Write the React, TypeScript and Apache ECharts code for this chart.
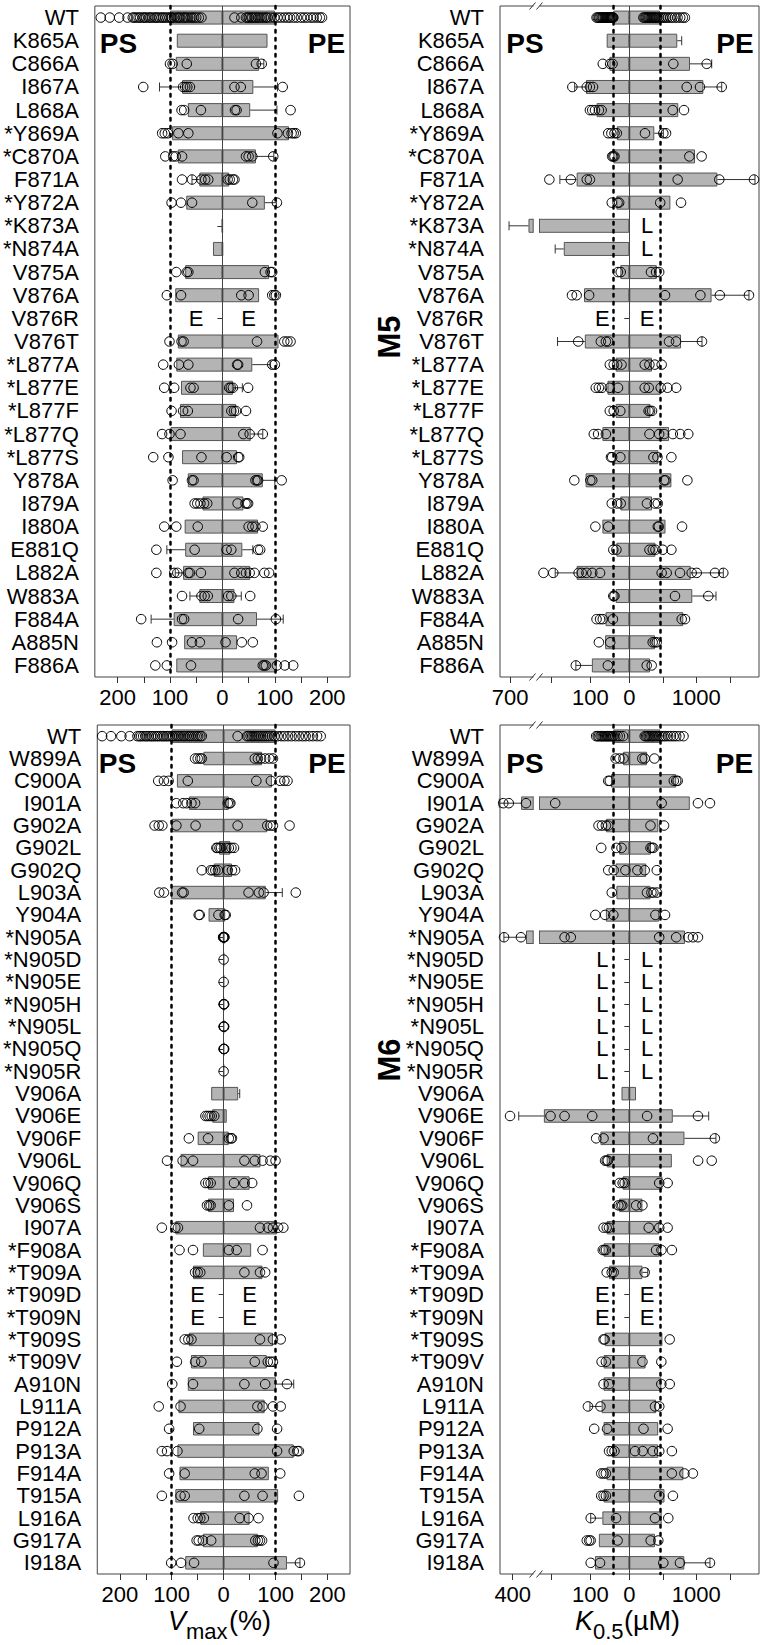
import React, { useEffect, useRef } from 'react';
import * as echarts from 'echarts';

const FONT = "'Liberation Sans', Arial, Helvetica, sans-serif";

// ---------------- categories ----------------
const catsM5 = ['WT', 'K865A', 'C866A', 'I867A', 'L868A', '*Y869A', '*C870A', 'F871A', '*Y872A', '*K873A', '*N874A', 'V875A', 'V876A', 'V876R', 'V876T', '*L877A', '*L877E', '*L877F', '*L877Q', '*L877S', 'Y878A', 'I879A', 'I880A', 'E881Q', 'L882A', 'W883A', 'F884A', 'A885N', 'F886A'];
const catsM6 = ['WT', 'W899A', 'C900A', 'I901A', 'G902A', 'G902L', 'G902Q', 'L903A', 'Y904A', '*N905A', '*N905D', '*N905E', '*N905H', '*N905L', '*N905Q', '*N905R', 'V906A', 'V906E', 'V906F', 'V906L', 'V906Q', 'V906S', 'I907A', '*F908A', '*T909A', '*T909D', '*T909N', '*T909S', '*T909V', 'A910N', 'L911A', 'P912A', 'P913A', 'F914A', 'T915A', 'L916A', 'G917A', 'I918A'];

// ---------------- M5 Vmax (%) ----------------
const vM5PsMean = [100, 87, 89, 77, 66, 96, 85, 44, 69, 1, 18, 71, 90, null, 85, 88, 79, 81, 99, 77, 66, 38, 72, 71, 75, 44, 93, 73, 88];
const vM5PeMean = [100, 86, 70, 59, 53, 127, 64, 13, 81, 0.6, 1, 89, 70, null, 107, 57, 20, 26, 54, 28, 77, 40, 68, 38, 53, 23, 66, 28, 104];
const vM5PsErr = [0, 0, 0, 43, 0, 0, 0, 14, 0, 0, 0, 0, 0, 0, 0, 0, 0, 0, 0, 0, 0, 0, 0, 35, 15, 18, 43, 0, 0];
const vM5PeErr = [0, 0, 9, 46, 51, 0, 34, 0, 22, 0, 0, 0, 0, 0, 0, 34, 18, 0, 23, 0, 23, 0, 0, 20, 0, 13, 50, 0, 0];
const vM5PsPts = [
  [232, 215, 197, 181, 171, 168, 164, 160, 157, 152, 149, 146, 141, 138, 135, 130, 127, 124, 120, 116, 113, 109, 105, 101, 98, 96, 92, 87, 84, 81, 76, 73, 70, 66, 61, 58, 54, 50, 45, 40],
  [], [100, 95, 68], [151, 75, 71, 67, 62], [78, 73, 41], [115, 110, 104, 84, 65], [109, 94, 89, 77], [77, 58, 40, 33, 27],
  [97, 79, 58], [], [], [88, 68, 65], [106, 79], [], [101, 78, 74], [113, 83, 65], [111, 92, 61, 55], [97, 75, 66],
  [115, 101, 80], [132, 103, 40], [95, 58, 55], [53, 48, 42, 35, 29], [111, 88, 47], [126, 53], [126, 92, 86, 65, 62, 41],
  [77, 40, 34, 28], [155, 77, 73], [125, 96, 58, 43], [128, 106, 60],
];
const vM5PePts = [
  [23, 36, 45, 48, 51, 55, 57, 61, 64, 68, 71, 75, 79, 83, 86, 92, 99, 105, 111, 118, 124, 129, 136, 142, 150, 156, 162, 169, 174, 180, 186, 190],
  [], [64, 75], [23, 35, 115], [24, 27, 130], [105, 125, 132, 136, 140], [45, 50, 57, 97], [10, 14, 20, 23],
  [57, 104], [], [], [81, 92, 95], [36, 50, 95, 99, 102], [], [66, 118, 124, 130], [28, 30, 95, 100], [13, 16, 20, 49], [17, 22, 26, 45],
  [40, 52, 77], [8, 30, 32], [63, 66, 68, 113], [29, 44, 47, 49], [50, 57, 63, 77], [8, 17, 68, 72], [23, 36, 45, 52, 61, 80, 89],
  [11, 17, 53], [30, 102], [6, 37, 58], [77, 80, 83, 104, 119, 135],
];
const vM5Marks: [number, string, string][] = [[13, 'E', 'E']];

// ---------------- M5 K0.5 (uM) ----------------
const kM5PsMean = [41, 58, 51, 111, 84, 32, 41, 135, 33, 425, 168, 23, 116, null, 114, 35, 56, 35, 69, 38, 112, 23, 69, 33, 135, 35, 61, 62, 96];
const kM5PeMean = [458, 716, 906, 1105, 731, 373, 981, 1314, 613, null, null, 410, 1228, null, 772, 339, 469, 316, 593, 433, 628, 339, 540, 390, 916, 940, 806, 384, 309];
const kM5PsErr = [0, 0, 0, 29, 0, 0, 0, 43, 0, 290, 22, 0, 0, 0, 70, 0, 0, 0, 0, 0, 0, 0, 0, 0, 55, 0, 0, 0, 41];
const kM5PeErr = [0, 66, 324, 274, 0, 135, 0, 562, 0, 0, 0, 0, 558, 0, 313, 0, 0, 0, 0, 0, 0, 0, 0, 0, 487, 354, 0, 0, 0];
const kM5PsPts = [
  [84, 81, 78, 76, 73, 70, 68, 66, 63, 61, 59, 57, 55, 53, 51, 49, 47, 45, 44, 42, 41],
  [], [68, 49, 43], [146, 109, 101, 93], [101, 95, 88, 78, 71], [54, 46, 38, 32], [38, 41, 44], [205, 150, 109, 101],
  [45, 30, 26], [], [], [29, 22], [147, 135, 103], [], [131, 73, 60, 54], [50, 40, 31, 20], [86, 78, 70, 50, 29], [50, 40, 23],
  [91, 80, 60], [47, 44, 23], [141, 100, 95], [45, 31, 22], [87, 54], [41, 33], [220, 195, 130, 122, 110, 95, 75],
  [41, 38], [84, 75, 68, 42], [78, 49], [137, 55],
];
const kM5PePts = [
  [210, 228, 245, 262, 280, 296, 315, 330, 348, 365, 382, 400, 420, 445, 470, 495, 520, 548, 575, 610, 640, 680, 720, 760, 800, 830],
  [], [657, 1155], [857, 1055, 1379], [648, 816], [234, 508, 548], [896, 1080], [722, 1343, 1861],
  [461, 772], [], [], [324, 400, 446], [533, 1061, 1351, 1786], [], [593, 697, 1085], [230, 300, 380, 483], [230, 290, 469, 570, 700], [288, 310, 339],
  [301, 446, 520, 650, 760, 880], [360, 420, 628], [518, 540, 867], [264, 380, 425], [425, 440, 787], [301, 350, 390, 500, 628], [483, 558, 757, 931, 1006, 1279, 1403],
  [682, 1179], [782, 831], [349, 380, 409], [260, 334],
];
const kM5Marks: [number, string, string][] = [[9, '', 'L'], [10, '', 'L'], [13, 'E', 'E']];

// ---------------- M6 Vmax (%) ----------------
const vM6PsMean = [100, 39, 90, 67, 100, 9, 19, 101, 29, 1, 0, 0, 0, 0, 0, 0, 24, 22, 50, 83, 30, 30, 93, 40, 59, null, null, 67, 63, 69, 87, 59, 89, 85, 93, 45, 40, 74];
const vM6PeMean = [100, 74, 93, 10, 84, 13, 16, 81, 3, 1, 0, 0, 0, 0, 0, 0, 28, 6, 10, 71, 50, 20, 103, 53, 75, null, null, 95, 83, 101, 79, 69, 135, 87, 105, 50, 66, 122];
const vM6PsErr = [0, 0, 0, 0, 0, 0, 0, 0, 0, 0, 0, 0, 0, 0, 0, 0, 0, 0, 0, 0, 0, 0, 0, 0, 0, 0, 0, 0, 0, 0, 0, 0, 0, 0, 0, 0, 0, 0];
const vM6PeErr = [0, 0, 0, 0, 0, 0, 0, 32, 0, 0, 0, 0, 0, 0, 0, 0, 3, 0, 0, 0, 0, 0, 0, 0, 0, 0, 0, 0, 0, 34, 0, 0, 0, 0, 0, 0, 0, 25];
const vM6PsPts = [
  [234, 217, 197, 181, 166, 162, 159, 155, 151, 148, 144, 140, 137, 133, 129, 126, 122, 118, 115, 111, 108, 104, 100, 97, 93, 89, 86, 82, 78, 75, 71, 67, 64, 60, 56, 52, 49, 45, 42],
  [55, 50, 45, 42], [126, 115, 106, 69], [91, 78, 71, 62, 55], [133, 125, 118, 91, 54], [5, 8, 12, 14], [42, 25, 21, 16, 11],
  [124, 115, 80, 77], [48, 46, 10], [1, 0.5], [], [], [], [], [], [], [], [35, 31, 27, 23, 18], [67, 30], [109, 79, 59],
  [35, 30, 25], [32, 28, 25], [119, 93, 88], [85, 59], [55, 50, 45], [], [], [75, 68, 62], [90, 55, 43], [99, 59],
  [125, 83], [105, 47], [119, 109, 89], [105, 75], [119, 83, 75], [58, 50, 45, 38], [52, 48, 40, 24], [101, 82, 57],
];
const vM6PePts = [
  [27, 45, 48, 52, 55, 58, 61, 65, 68, 72, 76, 80, 84, 88, 93, 98, 104, 111, 117, 124, 131, 138, 145, 152, 158, 165, 172, 180, 187],
  [60, 66, 72, 80, 88, 95], [63, 91, 109, 117, 123], [8, 11, 13], [27, 84, 90, 95, 127], [5, 10, 15, 20], [8, 16, 22],
  [48, 68, 77, 139], [2, 4], [0, 1, 1.5], [0], [0], [0, 0.5, 1], [0, 0.5, 1], [0, 0.5, 1], [0], [], [], [10, 14, 16], [40, 60, 75, 90, 100],
  [20, 40, 55], [10, 45], [70, 85, 95, 105, 115], [10, 25, 75], [40, 70, 80], [], [], [70, 95, 110], [60, 85, 90, 95], [40, 80, 122],
  [65, 75, 95, 110], [65, 103], [103, 135, 142, 145], [60, 73, 109], [40, 75, 145], [31, 48, 67], [61, 66, 70, 74], [96, 147],
];
const vM6Marks: [number, string, string][] = [[25, 'E', 'E'], [26, 'E', 'E']];

// ---------------- M6 K0.5 (uM) ----------------
const kM6PsMean = [41, 16, 47, 347, 60, 26, 35, 33, 60, 316, null, null, null, null, null, null, 20, 219, 74, 58, 17, 26, 58, 66, 52, null, null, 63, 66, 66, 71, 66, 44, 58, 66, 69, 78, 88];
const kM6PeMean = [461, 266, 700, 903, 433, 324, 252, 316, 446, 831, null, null, null, null, null, null, 100, 649, 823, 635, 494, 196, 447, 447, 196, null, null, 494, 243, 478, 400, 431, 431, 807, 525, 483, 383, 821];
const kM6PsErr = [0, 0, 0, 138, 0, 0, 0, 0, 0, 140, 0, 0, 0, 0, 0, 0, 0, 143, 0, 0, 0, 0, 0, 0, 0, 0, 0, 0, 0, 0, 30, 0, 0, 0, 0, 30, 0, 0];
const kM6PeErr = [0, 0, 0, 0, 0, 0, 0, 0, 0, 0, 0, 0, 0, 0, 0, 0, 0, 536, 470, 0, 0, 0, 0, 0, 80, 0, 0, 0, 0, 0, 0, 0, 0, 0, 0, 0, 0, 383];
const kM6PsPts = [
  [85, 81, 78, 74, 71, 68, 65, 62, 59, 56, 53, 50, 47, 44, 41, 36, 30, 24, 16],
  [35, 25, 15], [54, 50], [460, 425, 316, 190], [79, 70, 60, 54], [72, 33, 20], [54, 40, 10], [45], [87, 62, 41],
  [455, 348, 166, 150], [], [], [], [], [], [], [], [417, 202, 166, 95], [85, 66], [62, 58, 55], [25, 17, 12], [28, 22, 18],
  [66, 58, 52], [68, 64, 60], [58, 45, 40], [], [], [66, 63], [71, 60], [66, 52], [106, 74], [90, 57], [52, 45, 38],
  [72, 66, 60], [72, 66, 60], [99, 34], [109, 103, 99, 30], [99, 75],
];
const kM6PePts = [
  [230, 250, 270, 290, 310, 330, 350, 370, 395, 420, 450, 480, 510, 540, 580, 620, 660, 700, 750, 809],
  [194, 230, 375], [664, 700, 722], [483, 1025, 1204], [316, 518], [316, 340, 360], [121, 230, 410], [264, 330, 360, 413], [390, 533],
  [446, 700, 880, 950, 1025], [], [], [], [], [], [], [], [266, 1025], [353, 1277], [1027, 1230], [447, 572], [102, 196],
  [290, 447, 572], [400, 480, 635], [230], [], [], [603], [196, 478], [478, 603], [384, 447], [212, 572], [86, 200, 350, 447, 635],
  [635, 823, 949], [447, 651], [383, 582], [319, 433], [508, 756, 1204],
];
const kM6Marks: [number, string, string][] = [[10, 'L', 'L'], [11, 'L', 'L'], [12, 'L', 'L'], [13, 'L', 'L'], [14, 'L', 'L'], [15, 'L', 'L'], [25, 'E', 'E'], [26, 'E', 'E']];

// reference (WT) dotted lines and tick labels
const vmaxRef = 100;
const kRefM5 = [41, 458];
const kRefM6 = [41, 460];
const vmaxTicks = [-200, -150, -100, -50, 0, 50, 100, 150, 200];
const vmaxLabels = [-200, -100, 0, 100, 200];
const kTicksM5 = [700, 200, 100, 0, 500, 1000, 1500];
const kLabelsM5 = [700, 100, 0, 1000];
const kTicksM6 = [400, 200, 100, 0, 500, 1000, 1500];
const kLabelsM6 = [400, 100, 0, 1000];

// ---------------- scales ----------------
const K_PS = 0.39;
const K_PE = 0.067;
const BRK_M5 = { v: 224, s: 0.067 };
const BRK_M6 = { v: 230, s: 0.158 };
const kScale = (brk: { v: number; s: number }) => (v: number, side: number) => {
  if (side > 0) return v * K_PE;
  if (v <= brk.v) return -v * K_PS;
  return -(brk.v * K_PS + (v - brk.v) * brk.s);
};
const vScale = (v: number, side: number) => side * v;

const BAR = '#b4b4b4';
const BARB = '#555';

type Panel = {
  grid: { left: number; top: number; width: number; height: number };
  cats: string[];
  psMean: (number | null)[]; peMean: (number | null)[];
  psErr: number[]; peErr: number[];
  psPts: number[][]; pePts: number[][];
  marks: [number, string, string][];
  tf: (v: number, s: number) => number;
  min: number; max: number;
  ticks: number[]; labels: [number, string][];
  refs: number[];
  markT: [number, number];
  gap?: [number, number];
  breakT?: number;
  barW: number;
};

function buildPanel(p: Panel, gi: number) {
  const grid = { ...p.grid, show: true, borderColor: '#444', borderWidth: 1, backgroundColor: 'transparent', containLabel: false };
  const xAxis = {
    type: 'value', gridIndex: gi, min: p.min, max: p.max,
    axisLine: { show: false }, splitLine: { show: false },
    axisTick: { show: true, length: 6, customValues: p.ticks, lineStyle: { color: '#333' } },
    axisLabel: {
      customValues: p.labels.map((l) => l[0]), fontSize: 22, color: '#000', fontFamily: FONT, margin: 9,
      formatter: (val: number) => {
        const f = p.labels.find((l) => Math.abs(l[0] - val) < 0.01);
        return f ? f[1] : '';
      },
    },
  };
  const yAxis = {
    type: 'category', gridIndex: gi, data: p.cats, inverse: true,
    axisLine: { show: false },
    axisTick: { show: true, length: 5, alignWithLabel: true, interval: 0, lineStyle: { color: '#333' } },
    axisLabel: { interval: 0, fontSize: 22, color: '#000', fontFamily: FONT, margin: 16 },
  };
  const base = { xAxisIndex: gi, yAxisIndex: gi, silent: true, animation: false };
  const series: any[] = [];
  const barStyle = { color: BAR, borderColor: BARB, borderWidth: 1 };
  series.push({ ...base, type: 'bar', data: p.psMean.map((v) => (v == null ? '-' : p.tf(v, -1))), barWidth: p.barW, barGap: '-100%', itemStyle: barStyle, z: 2 });
  series.push({ ...base, type: 'bar', data: p.peMean.map((v) => (v == null ? '-' : p.tf(v, 1))), barWidth: p.barW, barGap: '-100%', itemStyle: barStyle, z: 2 });

  // bar gaps at axis break
  if (p.gap) {
    const gapData: number[][] = [];
    p.psMean.forEach((m, i) => {
      if (m != null && p.tf(m, -1) < p.gap![0]) gapData.push([p.gap![0], p.gap![1], i]);
    });
    series.push({
      ...base, type: 'custom', z: 3, data: gapData, encode: { x: [0, 1], y: 2 },
      renderItem: (params: any, api: any) => {
        const row = api.value(2);
        const a = api.coord([api.value(0), row]);
        const b = api.coord([api.value(1), row]);
        const h = p.barW / 2;
        return {
          type: 'group', children: [
            { type: 'rect', shape: { x: a[0], y: a[1] - h - 1, width: b[0] - a[0], height: 2 * h + 2 }, style: { fill: '#fff' } },
            { type: 'line', shape: { x1: a[0], y1: a[1] - h, x2: a[0], y2: a[1] + h }, style: { stroke: BARB, lineWidth: 1 } },
            { type: 'line', shape: { x1: b[0], y1: b[1] - h, x2: b[0], y2: b[1] + h }, style: { stroke: BARB, lineWidth: 1 } },
          ],
        };
      },
    });
  }

  // error bars
  const errData: number[][] = [];
  p.psMean.forEach((m, i) => { if (m != null && p.psErr[i] > 0) errData.push([p.tf(m, -1), p.tf(m + p.psErr[i], -1), i]); });
  p.peMean.forEach((m, i) => { if (m != null && p.peErr[i] > 0) errData.push([p.tf(m, 1), p.tf(m + p.peErr[i], 1), i]); });
  series.push({
    ...base, type: 'custom', z: 4, data: errData, encode: { x: [0, 1], y: 2 },
    renderItem: (params: any, api: any) => {
      const row = api.value(2);
      const a = api.coord([api.value(0), row]);
      const b = api.coord([api.value(1), row]);
      const st = { stroke: '#333', lineWidth: 1 };
      return {
        type: 'group', children: [
          { type: 'line', shape: { x1: a[0], y1: a[1], x2: b[0], y2: b[1] }, style: st },
          { type: 'line', shape: { x1: b[0], y1: b[1] - 4.5, x2: b[0], y2: b[1] + 4.5 }, style: st },
        ],
      };
    },
  });

  // break marks on frame
  if (p.breakT != null) {
    series.push({
      ...base, type: 'custom', z: 6, data: [[p.breakT, 0]],
      renderItem: (params: any, api: any) => {
        const cs = params.coordSys;
        const x = api.coord([api.value(0), 0])[0];
        const ch: any[] = [];
        [cs.y, cs.y + cs.height].forEach((y: number) => {
          ch.push({ type: 'rect', shape: { x: x - 3, y: y - 1.5, width: 6, height: 3 }, style: { fill: '#fff' } });
          ch.push({ type: 'line', shape: { x1: x - 7, y1: y + 3.5, x2: x - 1, y2: y - 3.5 }, style: { stroke: '#333', lineWidth: 1 } });
          ch.push({ type: 'line', shape: { x1: x, y1: y + 3.5, x2: x + 6, y2: y - 3.5 }, style: { stroke: '#333', lineWidth: 1 } });
        });
        return { type: 'group', children: ch };
      },
    });
  }

  // E / L labels
  const markItems: { t: number; row: number; text: string }[] = [];
  p.marks.forEach(([row, a, b]) => {
    if (a) markItems.push({ t: p.markT[0], row, text: a });
    if (b) markItems.push({ t: p.markT[1], row, text: b });
  });
  series.push({
    ...base, type: 'custom', z: 5, data: markItems.map((m) => [m.t, m.row]),
    renderItem: (params: any, api: any) => {
      const m = markItems[params.dataIndex];
      const pt = api.coord([api.value(0), api.value(1)]);
      return { type: 'text', x: pt[0], y: pt[1], style: { text: m.text, fill: '#000', font: `22px ${FONT}`, align: 'center', verticalAlign: 'middle' } };
    },
  });

  // points + reference lines
  const pts: number[][] = [];
  p.psPts.forEach((arr, i) => arr.forEach((v) => pts.push([p.tf(v, -1), i])));
  p.pePts.forEach((arr, i) => arr.forEach((v) => pts.push([p.tf(v, 1), i])));
  const dotted = { type: [2.5, 5.5], width: 2.5, color: '#000', cap: 'round' };
  series.push({
    ...base, type: 'scatter', z: 7, data: pts, symbol: 'circle', symbolSize: 9.5,
    itemStyle: { color: 'rgba(255,255,255,0)', borderColor: '#000', borderWidth: 1, opacity: 1 },
    markLine: {
      silent: true, symbol: ['none', 'none'], label: { show: false }, animation: false,
      data: [
        { xAxis: p.refs[0], lineStyle: dotted },
        { xAxis: p.refs[1], lineStyle: dotted },
        { xAxis: 0, lineStyle: { type: 'solid', color: '#444', width: 1 } },
      ],
    },
  });
  return { grid, xAxis, yAxis, series };
}

const m5k = kScale(BRK_M5);
const m6k = kScale(BRK_M6);
const kTickT = (vals: number[], tf: (v: number, s: number) => number) =>
  vals.map((v, i) => (i < vals.indexOf(0) ? tf(v, -1) : tf(v, 1)));
const kLabelT = (vals: number[], tf: (v: number, s: number) => number): [number, string][] =>
  vals.map((v, i) => [i < vals.indexOf(0) ? tf(v, -1) : tf(v, 1), String(v)]);

const GAP: [number, number] = [-96.1, -89.8];
const BREAK_T = -92.8;

const panels: Panel[] = [
  {
    grid: { left: 92, top: 6, width: 258, height: 671 }, cats: catsM5,
    psMean: vM5PsMean, peMean: vM5PeMean, psErr: vM5PsErr, peErr: vM5PeErr, psPts: vM5PsPts, pePts: vM5PePts,
    marks: vM5Marks, tf: vScale, min: -243.4, max: 243.4, ticks: vmaxTicks,
    labels: vmaxLabels.map((v) => [v, String(Math.abs(v))] as [number, string]),
    refs: [-vmaxRef, vmaxRef], markT: [-50, 50], barW: 14,
  },
  {
    grid: { left: 500, top: 6, width: 259, height: 671 }, cats: catsM5,
    psMean: kM5PsMean, peMean: kM5PeMean, psErr: kM5PsErr, peErr: kM5PeErr, psPts: kM5PsPts, pePts: kM5PePts,
    marks: kM5Marks, tf: m5k, min: -129.3, max: 129.7, ticks: kTickT(kTicksM5, m5k), labels: kLabelT(kLabelsM5, m5k),
    refs: [m5k(kRefM5[0], -1), m5k(kRefM5[1], 1)], markT: [m5k(69, -1), m5k(265, 1)], gap: GAP, breakT: BREAK_T, barW: 14,
  },
  {
    grid: { left: 92, top: 725, width: 258, height: 849 }, cats: catsM6,
    psMean: vM6PsMean, peMean: vM6PeMean, psErr: vM6PsErr, peErr: vM6PeErr, psPts: vM6PsPts, pePts: vM6PePts,
    marks: vM6Marks, tf: vScale, min: -243.4, max: 243.4, ticks: vmaxTicks,
    labels: vmaxLabels.map((v) => [v, String(Math.abs(v))] as [number, string]),
    refs: [-vmaxRef, vmaxRef], markT: [-50, 50], barW: 13.5,
  },
  {
    grid: { left: 500, top: 725, width: 259, height: 849 }, cats: catsM6,
    psMean: kM6PsMean, peMean: kM6PeMean, psErr: kM6PsErr, peErr: kM6PeErr, psPts: kM6PsPts, pePts: kM6PePts,
    marks: kM6Marks, tf: m6k, min: -129.3, max: 129.7, ticks: kTickT(kTicksM6, m6k), labels: kLabelT(kLabelsM6, m6k),
    refs: [m6k(kRefM6[0], -1), m6k(kRefM6[1], 1)], markT: [m6k(69, -1), m6k(265, 1)], gap: GAP, breakT: BREAK_T, barW: 13.5,
  },
];

function txt(text: string, x: number, y: number, size: number, opts: any = {}) {
  return {
    type: 'text', x, y, rotation: opts.rotation || 0, silent: true, z: 10,
    style: {
      text, fill: '#000', align: opts.align || 'center', verticalAlign: 'middle',
      font: `${opts.italic ? 'italic ' : ''}${opts.bold ? 'bold ' : ''}${size}px ${FONT}`,
    },
  };
}

export default function App() {
  const ref = useRef<HTMLDivElement>(null);
  useEffect(() => {
    if (!ref.current) return;
    const chart = echarts.init(ref.current, null, { renderer: 'svg' });
    const built = panels.map((p, i) => buildPanel(p, i));
    const graphic = [
      txt('PS', 118.5, 43, 28, { bold: true }), txt('PE', 326.5, 43, 28, { bold: true }),
      txt('PS', 525, 43, 28, { bold: true }), txt('PE', 735, 43, 28, { bold: true }),
      txt('PS', 117.5, 763, 28, { bold: true }), txt('PE', 327, 763, 28, { bold: true }),
      txt('PS', 525, 763, 28, { bold: true }), txt('PE', 734.5, 763, 28, { bold: true }),
      txt('M5', 389, 337, 31, { bold: true, rotation: Math.PI / 2 }),
      txt('M6', 389, 1060, 31, { bold: true, rotation: Math.PI / 2 }),
      txt('V', 168, 1621, 27, { italic: true, align: 'left' }),
      txt('max', 186, 1631, 22, { align: 'left' }),
      txt('(%)', 229, 1621, 27, { align: 'left' }),
      txt('K', 575, 1621, 27, { italic: true, align: 'left' }),
      txt('0.5', 593, 1631, 22, { align: 'left' }),
      txt('(\u00b5M)', 624, 1621, 27, { align: 'left' }),
    ];
    chart.setOption({
      animation: false,
      backgroundColor: '#fff',
      grid: built.map((b) => b.grid),
      xAxis: built.map((b) => b.xAxis),
      yAxis: built.map((b) => b.yAxis),
      series: built.flatMap((b) => b.series),
      graphic,
    });
    return () => chart.dispose();
  }, []);
  return <div ref={ref} style={{ position: 'absolute', left: 0, top: 0, width: 760, height: 1645 }} />;
}
